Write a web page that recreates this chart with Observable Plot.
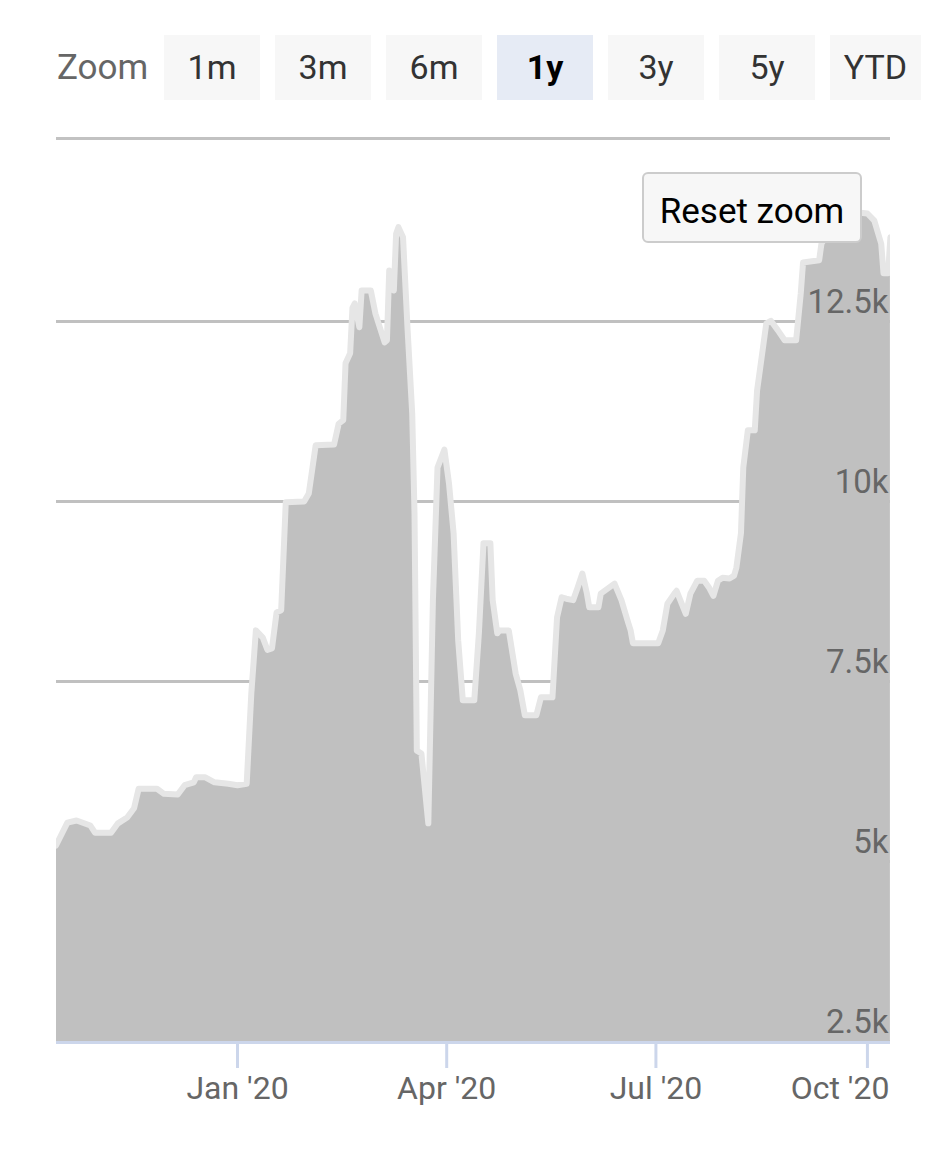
<!DOCTYPE html>
<html>
<head>
<meta charset="utf-8">
<script src="https://cdn.jsdelivr.net/npm/d3@7"></script>
<script src="https://cdn.jsdelivr.net/npm/@observablehq/plot@0.6"></script>
<style>
  body { margin: 0; background: #fff; font-family: Roboto, "Noto Sans", sans-serif; }
  #wrap { position: relative; width: 948px; height: 1152px; overflow: hidden; }
  #bar { position: absolute; left: 0; top: 0; width: 948px; height: 141px; }
  .lbl { position: absolute; left: 57px; top: 35px; height: 65px; line-height: 65px; font-size: 35px; color: #666; }
  .btn { position: absolute; top: 35px; height: 65px; line-height: 65px; width: 96px; text-align: center;
         background: #f7f7f7; color: #333; font-size: 34px; }
  .btn.sel { background: #e6ebf5; color: #000; font-weight: bold; }
  #sep { position: absolute; left: 56px; top: 137px; width: 834px; height: 3px; background: #c2c2c2; }
  #chart { position: absolute; left: 0; top: 141px; }
  #reset { position: absolute; left: 642px; top: 172px; width: 216px; height: 63px; padding-top: 4px; border: 2px solid #cccccc;
           border-radius: 6px; background: #f7f7f7; font-size: 35px; line-height: 67px; text-align: center; color: #000; }
</style>
</head>
<body>
<div id="wrap">
  <div id="bar"><div class="lbl">Zoom</div><div id="sep"></div></div>
  <div id="chart"></div>
  <div id="reset">Reset zoom</div>
</div>
<script>
// ---- data ----
const zoomButtons = ["1m", "3m", "6m", "1y", "3y", "5y", "YTD"];
const selectedButton = "1y";

const dates = [
  "2019-10-14","2019-10-19","2019-10-23","2019-10-29","2019-10-31",
  "2019-11-07","2019-11-10","2019-11-14","2019-11-17","2019-11-19","2019-11-27","2019-11-30",
  "2019-12-06","2019-12-09","2019-12-13","2019-12-14","2019-12-18","2019-12-22","2019-12-28",
  "2020-01-01","2020-01-05","2020-01-07","2020-01-09","2020-01-12","2020-01-14","2020-01-16","2020-01-18","2020-01-20","2020-01-22","2020-01-30",
  "2020-02-01","2020-02-04","2020-02-12","2020-02-14","2020-02-16","2020-02-17","2020-02-19","2020-02-20","2020-02-21","2020-02-23","2020-02-24","2020-02-28",
  "2020-03-01","2020-03-05","2020-03-06","2020-03-07","2020-03-09","2020-03-10","2020-03-11","2020-03-13","2020-03-15","2020-03-17","2020-03-18","2020-03-19","2020-03-21","2020-03-24","2020-03-26","2020-03-28","2020-03-31",
  "2020-04-02","2020-04-04","2020-04-06","2020-04-08","2020-04-13","2020-04-15","2020-04-17","2020-04-20","2020-04-21","2020-04-23","2020-04-24","2020-04-28",
  "2020-05-01","2020-05-03","2020-05-05","2020-05-10","2020-05-12","2020-05-17","2020-05-19","2020-05-21","2020-05-23","2020-05-26","2020-05-28","2020-05-30",
  "2020-06-01","2020-06-02","2020-06-06","2020-06-07","2020-06-10","2020-06-13","2020-06-16","2020-06-19","2020-06-20","2020-06-21",
  "2020-07-02","2020-07-04","2020-07-06","2020-07-09","2020-07-10","2020-07-14","2020-07-16","2020-07-19","2020-07-22","2020-07-24","2020-07-26","2020-07-28","2020-07-30",
  "2020-08-02","2020-08-04","2020-08-05","2020-08-07","2020-08-08","2020-08-10","2020-08-13","2020-08-14","2020-08-18","2020-08-20","2020-08-23","2020-08-26","2020-08-31",
  "2020-09-02","2020-09-03","2020-09-10","2020-09-11","2020-09-15","2020-09-21","2020-09-28",
  "2020-10-01","2020-10-04","2020-10-07","2020-10-08","2020-10-10","2020-10-11"
];
const values = [
  5220,5540,5570,5500,5400,
  5400,5530,5610,5740,6010,6010,5940,
  5930,6060,6100,6170,6170,6100,6080,
  6060,6080,7330,8210,8110,7940,7960,8460,8490,9990,10000,
  10110,10780,10790,11080,11130,11920,12060,12690,12750,12420,12930,12930,
  12610,12210,12240,13210,12930,13720,13810,13670,12380,11220,9830,6540,6500,5530,8630,10470,10720,
  10250,9560,8070,7240,7240,8170,9420,9420,8630,8170,8210,8210,
  7610,7380,7030,7030,7280,7280,8390,8670,8650,8630,8810,9000,
  8720,8530,8530,8720,8790,8860,8630,8310,8210,8030,
  8030,8210,8580,8720,8760,8440,8720,8900,8900,8810,8690,8900,8940,
  8930,8970,9080,9560,10470,10990,10990,11540,12470,12510,12380,12240,12240,
  12890,13320,13350,13580,13790,13960,14010,
  14000,13900,13580,13170,13170,13670
];

const yTicks = [2500, 5000, 7500, 10000, 12500];
const yTickLabels = ["2.5k", "5k", "7.5k", "10k", "12.5k"];
const xTickDates = ["2020-01-01", "2020-04-01", "2020-07-01", "2020-10-01"];
const xTickLabels = ["Jan '20", "Apr '20", "Jul '20", "Oct '20"];
const xDomain = ["2019-10-14T06:30Z", "2020-10-11T01:00Z"];
const yDomain = [2500, 15000];

// ---- buttons ----
const bar = document.getElementById("bar");
zoomButtons.forEach((b, i) => {
  const el = document.createElement("div");
  el.className = "btn" + (b === selectedButton ? " sel" : "");
  el.style.left = (164 + i * 111) + "px";
  if (i === zoomButtons.length - 1) el.style.width = "91px";
  el.textContent = b;
  bar.appendChild(el);
});

// ---- chart ----
const data = dates.map((d, i) => ({date: new Date(d), value: values[i]}));
const yLab = yTicks.map((v, i) => ({v, label: yTickLabels[i]}));
const xLab = xTickDates.map((d, i) => ({date: new Date(d), label: xTickLabels[i]}));

const chart = Plot.plot({
  width: 948,
  height: 1011,
  marginTop: 0,
  marginBottom: 111,
  marginLeft: 56,
  marginRight: 58,
  style: {fontFamily: "Roboto, 'Noto Sans', sans-serif", background: "transparent", overflow: "visible"},
  x: {type: "utc", domain: xDomain.map(d => new Date(d)), axis: null, label: null},
  y: {domain: yDomain, axis: null, label: null},
  marks: [
    Plot.ruleY(yTicks, {stroke: "#c0c0c0", strokeWidth: 3}),
    Plot.areaY(data, {x: "date", y1: yDomain[0], y2: "value", fill: "#c0c0c0", clip: true}),
    Plot.lineY(data, {x: "date", y: "value", stroke: "#e6e6e6", strokeWidth: 6,
                      strokeLinejoin: "round", strokeLinecap: "round", clip: true}),
    Plot.ruleY([yDomain[0]], {stroke: "#ccd6eb", strokeWidth: 3, dy: 1}),
    Plot.axisX({ticks: xTickDates.map(d => new Date(d)), tickSize: 27, tickFormat: () => "",
                stroke: "#ccd6eb", strokeWidth: 3, label: null}),
    Plot.text(yLab, {y: "v", text: "label", frameAnchor: "right", textAnchor: "end",
                     dx: -2, dy: -19, fontSize: 33, fill: "#666"}),
    Plot.text(xLab.slice(0, 3), {x: "date", text: "label", frameAnchor: "bottom",
                                 dy: 57, fontSize: 32, fill: "#666"}),
    Plot.text(xLab.slice(3), {x: "date", text: "label", frameAnchor: "bottom", textAnchor: "end",
                              dx: 22, dy: 57, fontSize: 32, fill: "#666"})
  ]
});
document.getElementById("chart").appendChild(chart);
</script>
</body>
</html>
